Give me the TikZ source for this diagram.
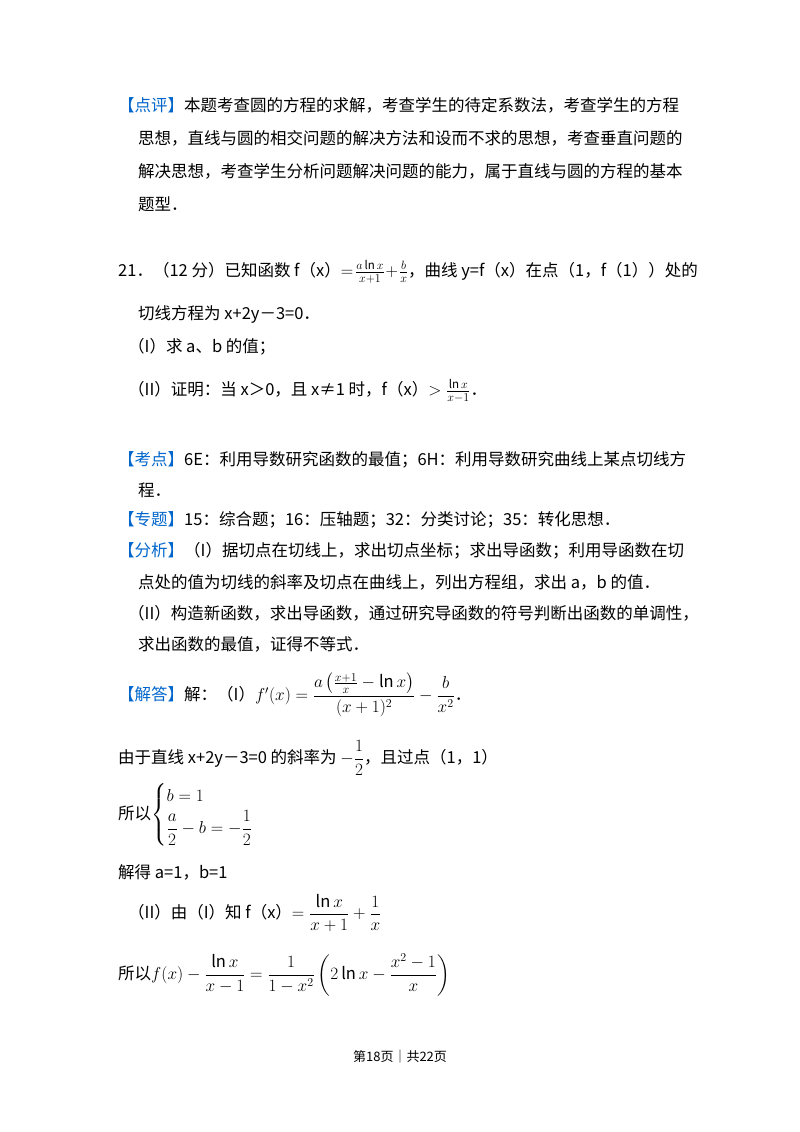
\documentclass[tikz,border=0pt]{standalone}
\usepackage{fontspec}
\usepackage{amsmath}
\setmainfont{Noto Sans CJK SC}
\definecolor{kb}{RGB}{0,102,204}
\begin{document}
\begin{tikzpicture}[x=1pt,y=-1pt,
  t/.style={anchor=west,inner sep=0pt,font=\fontsize{16.5}{20}\selectfont},
  m/.style={anchor=west,inner sep=0pt,font=\fontsize{13}{15}\selectfont}]
\useasboundingbox[fill=white] (0,0) rectangle (800,1132);
\node[t] (a1) at (118,105) {\textcolor{kb}{【点评】}本题考查圆的方程的求解，考查学生的待定系数法，考查学生的方程};
\node[t] (a2) at (138,138) {思想，直线与圆的相交问题的解决方法和设而不求的思想，考查垂直问题的};
\node[t] (a3) at (138,171) {解决思想，考查学生分析问题解决问题的能力，属于直线与圆的方程的基本};
\node[t] (a4) at (138,204) {题型．};
\node[t] (q1) at (118,272) {21．（12 分）已知函数 f（x）$=\!\tfrac{a\ln x}{x+1}\!+\!\tfrac{b}{x}$，曲线 y=f（x）在点（1，f（1））处的};
\node[t] (q2) at (138,314) {切线方程为 x+2y－3=0．};
\node[t] (q3) at (128,347) {（I）求 a、b 的值；};
\node[t] (q4) at (128,391) {（II）证明：当 x＞0，且 x≠1 时，f（x）$>\tfrac{\ln x}{x-1}$．};
\node[t] (k1) at (118,460) {\textcolor{kb}{【考点】}6E：利用导数研究函数的最值；6H：利用导数研究曲线上某点切线方};
\node[t] (k2) at (138,490) {程．};
\node[t] (z1) at (118,520) {\textcolor{kb}{【专题】}15：综合题；16：压轴题；32：分类讨论；35：转化思想．};
\node[t] (f1) at (118,551) {\textcolor{kb}{【分析】}（I）据切点在切线上，求出切点坐标；求出导函数；利用导函数在切};
\node[t] (f2) at (138,582) {点处的值为切线的斜率及切点在曲线上，列出方程组，求出 a，b 的值．};
\node[t] (f3) at (128,613) {（II）构造新函数，求出导函数，通过研究导函数的符号判断出函数的单调性，};
\node[t] (f4) at (138,644) {求出函数的最值，证得不等式．};
\node[t] (j1) at (118,695) {\textcolor{kb}{【解答】}解：（I）$f'(x)=\dfrac{a\left(\frac{x+1}{x}-\ln x\right)}{(x+1)^2}-\dfrac{b}{x^2}$．};
\node[t] (j2) at (118,758) {由于直线 x+2y－3=0 的斜率为 $-\dfrac{1}{2}$，且过点（1，1）};
\node[t] (j3) at (118,815) {所以$\begin{cases} b=1\\[2pt] \dfrac{a}{2}-b=-\dfrac{1}{2}\end{cases}$};
\node[t] (j4) at (118,872) {解得 a=1，b=1};
\node[t] (j5) at (128,913) {（II）由（I）知 f（x）$=\dfrac{\ln x}{x+1}+\dfrac{1}{x}$};
\node[t] (j6) at (118,975) {所以$f(x)-\dfrac{\ln x}{x-1}=\dfrac{1}{1-x^2}\left(2\ln x-\dfrac{x^2-1}{x}\right)$};
\node[anchor=center,inner sep=0pt,font=\fontsize{13}{15}\selectfont] (ft) at (400,1057) {第18页｜共22页};
\end{tikzpicture}
\end{document}
